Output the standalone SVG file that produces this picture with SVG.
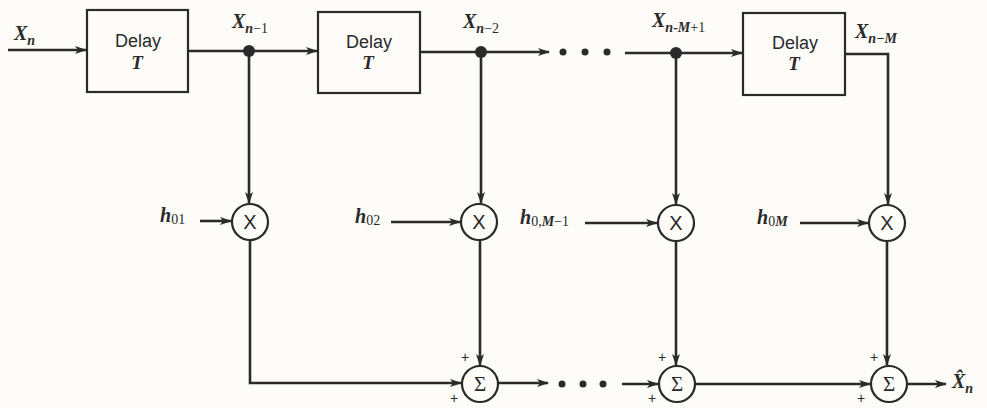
<svg xmlns="http://www.w3.org/2000/svg" width="987" height="408" viewBox="0 0 987 408">
<style>
.ln{fill:none;stroke:#2a2a2a;stroke-width:2.6}
.box{fill:none;stroke:#2a2a2a;stroke-width:2.2}
.op{fill:#fdfcf9;stroke:#2a2a2a;stroke-width:2.2}
.sans{font-family:"Liberation Sans",Arial,sans-serif;fill:#2a2a2a}
.ser{font-family:"Liberation Serif","Times New Roman",serif;fill:#2a2a2a}
.var{font-family:"Liberation Serif","Times New Roman",serif;font-style:italic;font-weight:bold;fill:#2a2a2a;font-size:20px}
.sub{font-size:14px}
.plus{font-family:"Liberation Sans",Arial,sans-serif;font-size:14px;fill:#2a2a2a;text-anchor:middle}
.dot{fill:#2a2a2a}
</style>
<defs>
<marker id="ah" viewBox="0 0 12 8" refX="11" refY="4" markerWidth="12" markerHeight="8" markerUnits="userSpaceOnUse" orient="auto">
<path d="M0,0 L12,4 L0,8 L3,4 Z" fill="#2a2a2a"/>
</marker>
</defs>
<rect width="987" height="408" fill="#fdfcf9"/>

<g id="connectors">
<path class="ln" d="M8,50 H86" marker-end="url(#ah)"/>
<path class="ln" d="M188,51 H317" marker-end="url(#ah)"/>
<path class="ln" d="M420,52 H549" marker-end="url(#ah)"/>
<path class="ln" d="M625,53 H742" marker-end="url(#ah)"/>
<path class="ln" d="M845,54 H888 V204" marker-end="url(#ah)"/>
<path class="ln" d="M249,51 V203" marker-end="url(#ah)"/>
<path class="ln" d="M481,52 V203" marker-end="url(#ah)"/>
<path class="ln" d="M676,53 V204" marker-end="url(#ah)"/>
<path class="ln" d="M200,221 H231" marker-end="url(#ah)"/>
<path class="ln" d="M391,222 H460" marker-end="url(#ah)"/>
<path class="ln" d="M585,223 H657" marker-end="url(#ah)"/>
<path class="ln" d="M800,223 H868" marker-end="url(#ah)"/>
<path class="ln" d="M250,240 V383 H461" marker-end="url(#ah)"/>
<path class="ln" d="M480,240 V365" marker-end="url(#ah)"/>
<path class="ln" d="M676,241 V365" marker-end="url(#ah)"/>
<path class="ln" d="M887,241 V365" marker-end="url(#ah)"/>
<path class="ln" d="M498,383 H548" marker-end="url(#ah)"/>
<path class="ln" d="M622,384 H658" marker-end="url(#ah)"/>
<path class="ln" d="M695,384 H870" marker-end="url(#ah)"/>
<path class="ln" d="M907,384 H946" marker-end="url(#ah)"/>
<circle class="dot" cx="249" cy="51" r="6"/>
<circle class="dot" cx="481" cy="52" r="6"/>
<circle class="dot" cx="676" cy="53" r="6"/>
<circle class="dot" cx="563" cy="52" r="3.5"/>
<circle class="dot" cx="585" cy="52" r="3.5"/>
<circle class="dot" cx="607" cy="52" r="3.5"/>
<circle class="dot" cx="562" cy="384" r="3.5"/>
<circle class="dot" cx="583" cy="384" r="3.5"/>
<circle class="dot" cx="603" cy="384" r="3.5"/>
</g>

<g id="delay1">
<rect class="box" x="87" y="10" width="101" height="82"/>
<text class="sans" x="138" y="47" font-size="18" text-anchor="middle">Delay</text>
<text class="ser" x="137" y="69" font-size="19" font-style="italic" font-weight="bold" text-anchor="middle">T</text>
</g>
<g id="delay2">
<rect class="box" x="318" y="12" width="102" height="81"/>
<text class="sans" x="369" y="48" font-size="18" text-anchor="middle">Delay</text>
<text class="ser" x="368" y="69" font-size="19" font-style="italic" font-weight="bold" text-anchor="middle">T</text>
</g>
<g id="delay3">
<rect class="box" x="743" y="13" width="102" height="82"/>
<text class="sans" x="795" y="49" font-size="18" text-anchor="middle">Delay</text>
<text class="ser" x="794" y="70" font-size="19" font-style="italic" font-weight="bold" text-anchor="middle">T</text>
</g>

<g id="mult1"><circle class="op" cx="250" cy="222" r="18"/><text class="sans" x="250" y="229" font-size="20" text-anchor="middle">X</text></g>
<g id="mult2"><circle class="op" cx="479" cy="222" r="18"/><text class="sans" x="479" y="229" font-size="20" text-anchor="middle">X</text></g>
<g id="mult3"><circle class="op" cx="676" cy="223" r="18"/><text class="sans" x="676" y="230" font-size="20" text-anchor="middle">X</text></g>
<g id="mult4"><circle class="op" cx="887" cy="223" r="18"/><text class="sans" x="887" y="230" font-size="20" text-anchor="middle">X</text></g>

<g id="sum1"><circle class="op" cx="480" cy="384" r="18"/><text class="ser" x="480" y="391" font-size="21" text-anchor="middle">Σ</text><text class="plus" x="465" y="362">+</text><text class="plus" x="454" y="403">+</text></g>
<g id="sum2"><circle class="op" cx="677" cy="384" r="18"/><text class="ser" x="677" y="391" font-size="21" text-anchor="middle">Σ</text><text class="plus" x="662" y="362">+</text><text class="plus" x="652" y="403">+</text></g>
<g id="sum3"><circle class="op" cx="889" cy="384" r="18"/><text class="ser" x="889" y="391" font-size="21" text-anchor="middle">Σ</text><text class="plus" x="874" y="362">+</text><text class="plus" x="861" y="403">+</text></g>

<g id="labels">
<text class="var" x="14" y="40">X<tspan class="sub" dy="5">n</tspan></text>
<text class="var" x="232" y="28">X<tspan class="sub" dy="5">n</tspan><tspan class="sub" font-style="normal" font-weight="normal">−1</tspan></text>
<text class="var" x="463" y="28">X<tspan class="sub" dy="5">n</tspan><tspan class="sub" font-style="normal" font-weight="normal">−2</tspan></text>
<text class="var" x="652" y="27">X<tspan class="sub" dy="5">n-M</tspan><tspan class="sub" font-style="normal" font-weight="normal">+1</tspan></text>
<text class="var" x="855" y="38">X<tspan class="sub" dy="5">n−M</tspan></text>
<text class="var" x="160" y="222" font-size="18">h<tspan class="sub" dy="2" font-style="normal" font-weight="normal">01</tspan></text>
<text class="var" x="355" y="223" font-size="18">h<tspan class="sub" dy="2" font-style="normal" font-weight="normal">02</tspan></text>
<text class="var" x="520" y="224" font-size="18">h<tspan class="sub" dy="2"><tspan font-style="normal" font-weight="normal">0,</tspan>M<tspan font-style="normal" font-weight="normal">−1</tspan></tspan></text>
<text class="var" x="757" y="224" font-size="18">h<tspan class="sub" dy="2"><tspan font-style="normal" font-weight="normal">0</tspan>M</tspan></text>
<text class="var" x="952" y="388">X̂<tspan class="sub" dy="5">n</tspan></text>
</g>
</svg>
